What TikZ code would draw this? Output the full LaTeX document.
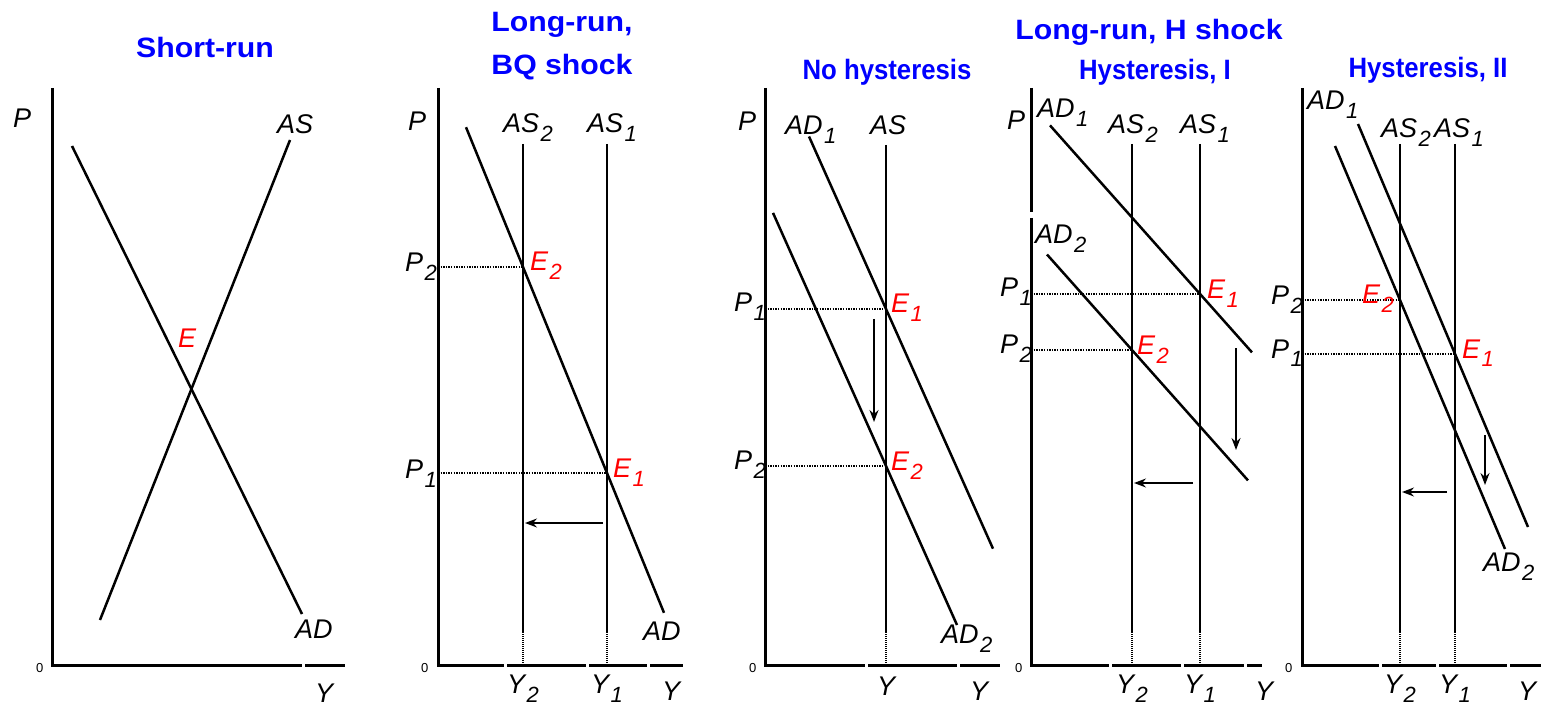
\documentclass[tikz,border=0pt]{standalone}
\usepackage{fontspec}
\setmainfont{Liberation Sans}
\usepackage{graphicx}
\usetikzlibrary{arrows.meta}
\newcommand\lsub[2]{#1\kern1.5pt\raisebox{-9pt}{\fontsize{22}{22}\selectfont #2}}
\newcommand\ttlA[1]{\scalebox{1.08}[1]{#1}}
\newcommand\ttlB[1]{\scalebox{0.92}[1]{#1}}
\tikzset{
  lab/.style={font=\fontsize{27}{27}\selectfont\itshape, inner sep=0pt, anchor=base west},
  labc/.style={lab, anchor=base},
  redlab/.style={lab, text=red},
  zero/.style={font=\fontsize{13}{13}\selectfont, inner sep=0pt, anchor=base west},
  ttl/.style={font=\fontsize{28}{28}\selectfont\bfseries, text=blue, inner sep=0pt, anchor=base},
  axisline/.style={line width=3pt, line join=miter},
  curve/.style={line width=2.5pt},
  guide/.style={line width=1.6pt, dash pattern=on 1.3pt off 1.3pt},
  foot/.style={line width=2.2pt, dash pattern=on 1pt off 1pt},
  move/.style={line width=1.5pt, -{Stealth[length=12pt,width=9pt,inset=4pt]}},
  gap/.style={fill=white, draw=none}
}
\begin{document}
\begin{tikzpicture}[x=1pt, y=-1pt]
\useasboundingbox (0,0) rectangle (1541,708);

% ---------- titles ----------
\node[ttl] (t1) at (205,58) {\ttlA{Short-run}};
\node[ttl] (t2a) at (562,32) {\ttlA{Long-run,}};
\node[ttl] (t2b) at (562,75) {\ttlA{BQ shock}};
\node[ttl] (t3) at (1149,40) {\ttlA{Long-run, H shock}};
\node[ttl] (t3a) at (887,80) {\ttlB{No hysteresis}};
\node[ttl] (t3b) at (1155,80) {\ttlB{Hysteresis, I}};
\node[ttl] (t3c) at (1428,78) {\ttlB{Hysteresis, II}};

% ================= Panel 1 =================
\coordinate (a1t) at (52,88);
\coordinate (a1o) at (52,665);
\coordinate (a1r) at (345,665);
\draw[axisline] (a1t) -- (a1o) -- (a1r);
\fill[gap] (302,661) rectangle (305,669);
\coordinate (p1ada) at (72,146);
\coordinate (p1adb) at (302,614);
\coordinate (p1asa) at (100,620);
\coordinate (p1asb) at (290,140);
\draw[curve] (p1ada) -- (p1adb);
\draw[curve] (p1asa) -- (p1asb);
\node[lab] (p1P) at (13,128) {P};
\node[lab] (p1AS) at (277,134) {AS};
\node[lab] (p1AD) at (295,638) {AD};
\node[redlab] (p1E) at (178,348) {E};
\node[zero] (p1z) at (36,672) {0};
\node[lab] (p1Y) at (315,702) {Y};

% ================= Panel 2 =================
\coordinate (a2t) at (438,88);
\coordinate (a2o) at (438,665);
\coordinate (a2r) at (683,665);
\draw[axisline] (a2t) -- (a2o) -- (a2r);
\foreach \g in {505,587,648} \fill[gap] (\g-1.5,661) rectangle (\g+1.5,669);
\coordinate (p2s2t) at (523,144); \coordinate (p2s2b) at (523,632); \coordinate (p2s2f) at (523,665);
\coordinate (p2s1t) at (607,144); \coordinate (p2s1b) at (607,632); \coordinate (p2s1f) at (607,665);
\draw[curve] (p2s2t) -- (p2s2b); \draw[foot] (p2s2b) -- (p2s2f);
\draw[curve] (p2s1t) -- (p2s1b); \draw[foot] (p2s1b) -- (p2s1f);
\coordinate (p2ada) at (466,127.2);
\coordinate (p2adb) at (664,612.8);
\draw[curve] (p2ada) -- (p2adb);
\coordinate (p2E2) at (523,267);
\coordinate (p2E1) at (607,473);
\coordinate (p2P2) at (438,267);
\coordinate (p2P1) at (438,473);
\draw[guide] (p2P2) -- (p2E2);
\draw[guide] (p2P1) -- (p2E1);
\coordinate (p2arA) at (603,523);
\coordinate (p2arB) at (525,523);
\draw[move] (p2arA) -- (p2arB);
\node[lab] (p2P) at (408,131) {P};
\node[lab] (p2AS2) at (503,133) {\lsub{AS}{2}};
\node[lab] (p2AS1) at (587,133) {\lsub{AS}{1}};
\node[lab] (p2lP2) at (405,272) {\lsub{P}{2}};
\node[lab] (p2lP1) at (405,478) {\lsub{P}{1}};
\node[redlab] (p2lE2) at (530,271) {\lsub{E}{2}};
\node[redlab] (p2lE1) at (613,477) {\lsub{E}{1}};
\node[lab] (p2AD) at (643,640) {AD};
\node[labc] (p2Y2) at (523,693) {\lsub{Y}{2}};
\node[labc] (p2Y1) at (607,693) {\lsub{Y}{1}};
\node[lab] (p2Y) at (662,700) {Y};
\node[zero] (p2z) at (421,672) {0};

% ================= Panel 3 =================
\coordinate (a3t) at (765,88);
\coordinate (a3o) at (765,665);
\coordinate (a3r) at (1000,665);
\draw[axisline] (a3t) -- (a3o) -- (a3r);
\foreach \g in {866,958} \fill[gap] (\g-1.5,661) rectangle (\g+1.5,669);
\coordinate (p3st) at (886,145); \coordinate (p3sb) at (886,632); \coordinate (p3sf) at (886,665);
\draw[curve] (p3st) -- (p3sb); \draw[foot] (p3sb) -- (p3sf);
\coordinate (p3d1a) at (809,136.5); \coordinate (p3d1b) at (993,548.7);
\coordinate (p3d2a) at (773,212.9); \coordinate (p3d2b) at (957,625);
\draw[curve] (p3d1a) -- (p3d1b);
\draw[curve] (p3d2a) -- (p3d2b);
\coordinate (p3E1) at (886,309); \coordinate (p3E2) at (886,466);
\coordinate (p3P1) at (765,309); \coordinate (p3P2) at (765,466);
\draw[guide] (p3P1) -- (p3E1);
\draw[guide] (p3P2) -- (p3E2);
\coordinate (p3arA) at (874,319); \coordinate (p3arB) at (874,422);
\draw[move] (p3arA) -- (p3arB);
\node[lab] (p3P) at (738,131) {P};
\node[lab] (p3AD1) at (785,135) {\lsub{AD}{1}};
\node[lab] (p3AS) at (870,135) {AS};
\node[lab] (p3lP1) at (734,312) {\lsub{P}{1}};
\node[lab] (p3lP2) at (734,469) {\lsub{P}{2}};
\node[redlab] (p3lE1) at (891,313) {\lsub{E}{1}};
\node[redlab] (p3lE2) at (891,470) {\lsub{E}{2}};
\node[lab] (p3AD2) at (941,643) {\lsub{AD}{2}};
\node[labc] (p3Ym) at (886,695) {Y};
\node[lab] (p3Y) at (970,700) {Y};
\node[zero] (p3z) at (749,672) {0};

% ================= Panel 4 =================
\coordinate (a4t) at (1031,88);
\coordinate (a4m1) at (1031,212);
\coordinate (a4m2) at (1031,218);
\coordinate (a4o) at (1031,665);
\coordinate (a4r) at (1262,665);
\draw[axisline] (a4t) -- (a4m1);
\draw[axisline] (a4m2) -- (a4o) -- (a4r);
\foreach \g in {1110,1182,1245} \fill[gap] (\g-1.5,661) rectangle (\g+1.5,669);
\coordinate (p4s2t) at (1132,144); \coordinate (p4s2b) at (1132,632); \coordinate (p4s2f) at (1132,665);
\coordinate (p4s1t) at (1200,144); \coordinate (p4s1b) at (1200,632); \coordinate (p4s1f) at (1200,665);
\draw[curve] (p4s2t) -- (p4s2b); \draw[foot] (p4s2b) -- (p4s2f);
\draw[curve] (p4s1t) -- (p4s1b); \draw[foot] (p4s1b) -- (p4s1f);
\coordinate (p4d1a) at (1050,125.4); \coordinate (p4d1b) at (1252,352.4);
\coordinate (p4d2a) at (1047,254.5); \coordinate (p4d2b) at (1248,480.4);
\draw[curve] (p4d1a) -- (p4d1b);
\draw[curve] (p4d2a) -- (p4d2b);
\coordinate (p4E1) at (1200,294); \coordinate (p4E2) at (1132,350);
\coordinate (p4P1) at (1031,294); \coordinate (p4P2) at (1031,350);
\draw[guide] (p4P1) -- (p4E1);
\draw[guide] (p4P2) -- (p4E2);
\coordinate (p4dA) at (1236,348); \coordinate (p4dB) at (1236,450);
\draw[move] (p4dA) -- (p4dB);
\coordinate (p4lA) at (1193,483); \coordinate (p4lB) at (1134,483);
\draw[move] (p4lA) -- (p4lB);
\node[lab] (p4P) at (1007,130) {P};
\node[lab] (p4AD1) at (1037,118) {\lsub{AD}{1}};
\node[lab] (p4AS2) at (1108,134) {\lsub{AS}{2}};
\node[lab] (p4AS1) at (1180,134) {\lsub{AS}{1}};
\node[lab] (p4AD2) at (1035,244) {\lsub{AD}{2}};
\node[lab] (p4lP1) at (1000,297) {\lsub{P}{1}};
\node[lab] (p4lP2) at (1000,353) {\lsub{P}{2}};
\node[redlab] (p4lE1) at (1207,299) {\lsub{E}{1}};
\node[redlab] (p4lE2) at (1137,355) {\lsub{E}{2}};
\node[labc] (p4Y2) at (1132,693) {\lsub{Y}{2}};
\node[labc] (p4Y1) at (1200,693) {\lsub{Y}{1}};
\node[lab] (p4Y) at (1255,700) {Y};
\node[zero] (p4z) at (1015,672) {0};

% ================= Panel 5 =================
\coordinate (a5t) at (1302,88);
\coordinate (a5o) at (1302,665);
\coordinate (a5r) at (1541,665);
\draw[axisline] (a5t) -- (a5o) -- (a5r);
\foreach \g in {1380,1437,1508} \fill[gap] (\g-1.5,661) rectangle (\g+1.5,669);
\coordinate (p5s2t) at (1400,144); \coordinate (p5s2b) at (1400,632); \coordinate (p5s2f) at (1400,665);
\coordinate (p5s1t) at (1455,144); \coordinate (p5s1b) at (1455,632); \coordinate (p5s1f) at (1455,665);
\draw[curve] (p5s2t) -- (p5s2b); \draw[foot] (p5s2b) -- (p5s2f);
\draw[curve] (p5s1t) -- (p5s1b); \draw[foot] (p5s1b) -- (p5s1f);
\coordinate (p5d1a) at (1358,124); \coordinate (p5d1b) at (1528,527);
\coordinate (p5d2a) at (1335,146); \coordinate (p5d2b) at (1505,549);
\draw[curve] (p5d1a) -- (p5d1b);
\draw[curve] (p5d2a) -- (p5d2b);
\coordinate (p5E2) at (1400,300); \coordinate (p5E1) at (1455,354);
\coordinate (p5P2) at (1302,300); \coordinate (p5P1) at (1302,354);
\draw[guide] (p5P2) -- (p5E2);
\draw[guide] (p5P1) -- (p5E1);
\coordinate (p5dA) at (1485,435); \coordinate (p5dB) at (1485,485);
\draw[move] (p5dA) -- (p5dB);
\coordinate (p5lA) at (1447,492); \coordinate (p5lB) at (1402,492);
\draw[move] (p5lA) -- (p5lB);
\node[lab] (p5AD1) at (1307,110) {\lsub{AD}{1}};
\node[lab] (p5AS2) at (1381,138) {\lsub{AS}{2}};
\node[lab] (p5AS1) at (1434,138) {\lsub{AS}{1}};
\node[lab] (p5lP2) at (1271,305) {\lsub{P}{2}};
\node[lab] (p5lP1) at (1271,358) {\lsub{P}{1}};
\node[redlab] (p5lE2) at (1362,304) {\lsub{E}{2}};
\node[redlab] (p5lE1) at (1462,358) {\lsub{E}{1}};
\node[lab] (p5AD2) at (1483,571) {\lsub{AD}{2}};
\node[labc] (p5Y2) at (1400,693) {\lsub{Y}{2}};
\node[labc] (p5Y1) at (1455,693) {\lsub{Y}{1}};
\node[lab] (p5Y) at (1518,700) {Y};
\node[zero] (p5z) at (1285,672) {0};
\end{tikzpicture}
\end{document}
